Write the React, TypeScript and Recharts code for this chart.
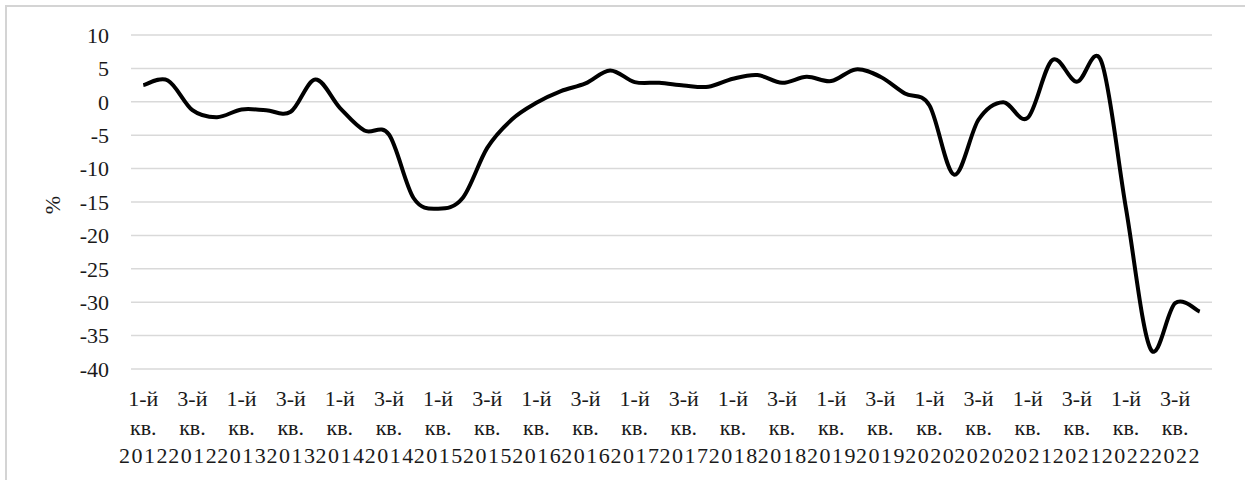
import { LineChart, Line, XAxis, YAxis, CartesianGrid } from 'recharts';

const YEARS = [2012, 2013, 2014, 2015, 2016, 2017, 2018, 2019, 2020, 2021, 2022];
const QUARTERS = ['1-й', '2-й', '3-й', '4-й'];
const Y_TICKS = [10, 5, 0, -5, -10, -15, -20, -25, -30, -35, -40];

// % change by quarter, Q1 2012 .. Q4 2022
const VALUES = [
  2.5, 3.2, -1.25, -2.3,
  -1.15, -1.25, -1.5, 3.35,
  -0.9, -4.3, -4.9, -14.4,
  -16.0, -14.4, -6.9, -2.65,
  -0.15, 1.6, 2.75, 4.7,
  2.95, 2.85, 2.45, 2.25,
  3.45, 4.0, 2.85, 3.75,
  3.1, 4.85, 3.75, 1.25,
  -0.55, -10.9, -2.65, -0.05,
  -2.4, 6.25, 3.0, 6.0,
  -16.0, -37.0, -30.15, -31.4,
];

const CATEGORIES = YEARS.flatMap((y) => QUARTERS.map((q) => `${q} кв. ${y}`));

const data = CATEGORIES.map((name, i) => ({ name, value: VALUES[i] }));

const FONT = '"Liberation Serif", "Times New Roman", serif';
const TEXT = '#1a1a1a';

// Excel-like smoothing (Catmull-Rom through every point)
const excelSmooth = (context: any) => {
  let pts: number[][] = [];
  return {
    areaStart() {},
    areaEnd() {},
    lineStart() {
      pts = [];
    },
    point(x: number, y: number) {
      pts.push([+x, +y]);
    },
    lineEnd() {
      if (!pts.length) return;
      context.moveTo(pts[0][0], pts[0][1]);
      for (let i = 0; i < pts.length - 1; i++) {
        const p0 = pts[i - 1] || pts[i];
        const p1 = pts[i];
        const p2 = pts[i + 1];
        const p3 = pts[i + 2] || p2;
        context.bezierCurveTo(
          p1[0] + (p2[0] - p0[0]) / 6,
          p1[1] + (p2[1] - p0[1]) / 6,
          p2[0] - (p3[0] - p1[0]) / 6,
          p2[1] - (p3[1] - p1[1]) / 6,
          p2[0],
          p2[1]
        );
      }
    },
  };
};

const QuarterTick = ({ x, y, payload }: any) => {
  const parts = String(payload.value).split(' ');
  return (
    <text x={x} y={y} textAnchor="middle" fill={TEXT} fontFamily={FONT} fontSize={22}>
      <tspan x={x} dy={37}>{parts[0]}</tspan>
      <tspan x={x} dy={29}>{parts[1]}</tspan>
      <tspan x={x + 0.75} dy={28} letterSpacing={1.5}>{parts[2]}</tspan>
    </text>
  );
};

const W = 1245;
const H = 480;
const PLOT_W = 1081;

const AxisTitle = () => (
  <text
    x={52}
    y={205}
    transform="rotate(-90 52 205)"
    textAnchor="middle"
    dominantBaseline="central"
    fill={TEXT}
    fontFamily={FONT}
    fontSize={22}
  >
    %
  </text>
);

export default function App() {
  return (
    <div
      style={{
        position: 'fixed',
        left: 0,
        top: 0,
        width: W,
        height: H,
        overflow: 'hidden',
        background: '#fff',
      }}
    >
      {/* outer chart frame: only left and top edges fall inside the picture */}
      <div
        style={{
          position: 'absolute',
          left: 5,
          top: 5,
          width: W + 40,
          height: H + 40,
          boxSizing: 'border-box',
          border: '2px solid #d4d4d4',
        }}
      />
      <div style={{ position: 'absolute', left: 0, top: 0 }}>
        <LineChart width={W} height={H} data={data} margin={{ top: 35, right: 33, bottom: 0, left: 0 }}>
          <CartesianGrid vertical={false} stroke="#d9d9d9" strokeWidth={1.5} />
          <XAxis
            dataKey="name"
            interval={1}
            axisLine={false}
            tickLine={false}
            tickSize={0}
            tickMargin={0}
            height={111}
            padding={{ left: PLOT_W / 88, right: PLOT_W / 88 }}
            tick={<QuarterTick />}
          />
          <YAxis
            width={131}
            domain={[-40, 10]}
            ticks={Y_TICKS}
            interval={0}
            axisLine={false}
            tickLine={false}
            tickSize={0}
            tickMargin={22}
            tick={{ fill: TEXT, fontFamily: FONT, fontSize: 22 }}
            label={{ content: () => <AxisTitle /> }}
          />
          <Line
            dataKey="value"
            type={excelSmooth as any}
            stroke="#000"
            strokeWidth={4}
            dot={false}
            activeDot={false}
            isAnimationActive={false}
          />
        </LineChart>
      </div>
    </div>
  );
}
